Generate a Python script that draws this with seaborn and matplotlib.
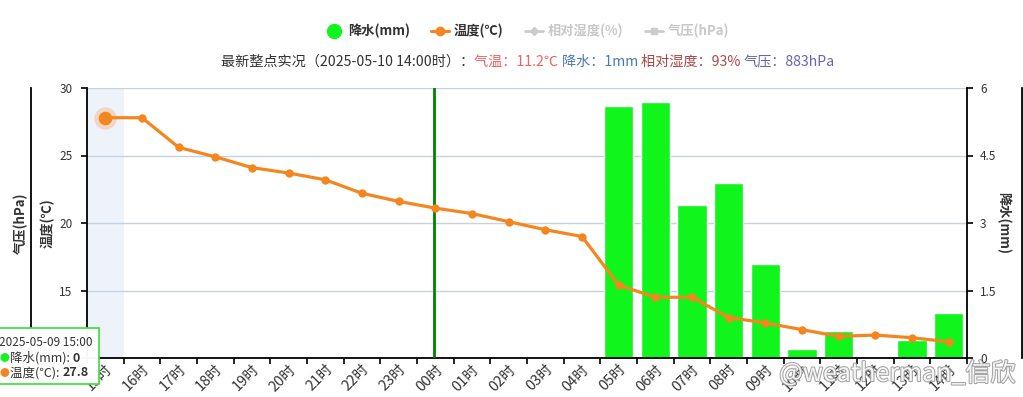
import numpy as np
import pandas as pd
import matplotlib
matplotlib.use('Agg')
import matplotlib.pyplot as plt
import seaborn as sns
from matplotlib.lines import Line2D
from matplotlib.patches import Rectangle
import matplotlib.patheffects as pe

# ---------------- data ----------------
hours = ['15时', '16时', '17时', '18时', '19时', '20时', '21时', '22时', '23时',
         '00时', '01时', '02时', '03时', '04时', '05时', '06时', '07时', '08时',
         '09时', '10时', '11时', '12时', '13时', '14时']
temp = [27.8, 27.8, 25.6, 24.9, 24.1, 23.7, 23.2, 22.2, 21.6, 21.1, 20.7, 20.1,
        19.5, 19.0, 15.4, 14.5, 14.5, 13.0, 12.6, 12.1, 11.6, 11.7, 11.5, 11.2]
precip = [0, 0, 0, 0, 0, 0, 0, 0, 0, 0, 0, 0, 0, 0,
          5.6, 5.7, 3.4, 3.9, 2.1, 0.2, 0.6, 0, 0.4, 1.0]
temp_ticks = [10, 15, 20, 25, 30]
temp_tick_labels = ['', '15', '20', '25', '30']   # "10" is hidden behind the tooltip
rain_ticks = [0, 1.5, 3, 4.5, 6]
rain_tick_labels = ['0', '1.5', '3', '4.5', '6']
legend_labels = ['降水(mm)', '温度(℃)', '相对湿度(%)', '气压(hPa)']
subtitle_parts = ['最新整点实况（2025-05-10 14:00时）：', '气温：11.2℃ ', '降水：1mm ',
                  '相对湿度：93% ', '气压：883hPa']
tooltip_title = '2025-05-09 15:00'
highlight_idx = 0
day_change_idx = 9

df = pd.DataFrame({'hour': hours, 'pos': np.arange(len(hours)), 'temp': temp, 'precip': precip})

# ---------------- style ----------------
GREEN = '#10f51b'
ORANGE = '#f5851f'
TXT = '#333333'
sns.set_theme(style='white')
plt.rcParams['font.family'] = ['Noto Sans CJK SC', 'DejaVu Sans']
plt.rcParams['axes.unicode_minus'] = False

W, H = 1023, 397
PX = 72 / 100  # points per pixel
fig = plt.figure(figsize=(W / 100, H / 100), dpi=100)
fig.patch.set_facecolor('white')

L, R, T, B = 87, 967, 88, 358
ax = fig.add_axes([L / W, 1 - B / H, (R - L) / W, (B - T) / H])
ax2 = ax.twinx()
ax.set_zorder(3)
ax2.set_zorder(2)
ax.patch.set_visible(False)

# precipitation bars (right axis)
sns.barplot(data=df, x='hour', y='precip', ax=ax2, color=GREEN, saturation=1,
            width=0.8, order=hours, zorder=2)
ax2.axvspan(highlight_idx - 0.5, highlight_idx + 0.5, color='#eef3fa', zorder=0, lw=0)
ax2.set_ylim(0, 6)
ax2.set_yticks(rain_ticks, labels=rain_tick_labels)
ax2.yaxis.grid(True, color='#c5d2e0', lw=1, zorder=1)
ax2.set_axisbelow(True)
for s in ['left', 'top', 'bottom']:
    ax2.spines[s].set_visible(False)
ax2.spines['right'].set_color('black')
ax2.spines['right'].set_linewidth(1.3)
ax2.tick_params(axis='y', which='major', length=6 * PX, width=1.2, color='black',
                direction='out', labelsize=8.5, labelcolor=TXT, pad=5, right=True)
ax2.set_ylabel('降水(mm)', rotation=270, fontsize=9.5, color=TXT, labelpad=10, fontweight='bold')
ax2.set_xlabel('')

# temperature line (left axis)
sns.lineplot(data=df, x='pos', y='temp', ax=ax, color=ORANGE, lw=2.3, marker='o',
             markersize=6, markeredgewidth=0, zorder=5)
ax.scatter([df['pos'][highlight_idx]], [df['temp'][highlight_idx]], s=260, color=ORANGE,
           alpha=0.25, lw=0, zorder=6)
ax.scatter([df['pos'][highlight_idx]], [df['temp'][highlight_idx]], s=95, color=ORANGE,
           lw=0, zorder=7)
ax.axvline(day_change_idx - 0.03, color='#008000', lw=2, zorder=4)

ax.set_xlim(-0.5, len(hours) - 0.5)
ax.set_ylim(10, 30)
ax.set_yticks(temp_ticks, labels=temp_tick_labels)
ax.set_xticks(np.arange(-0.5, len(hours), 1), labels=[''] * (len(hours) + 1))
ax.set_xticks(np.arange(len(hours)), labels=hours, minor=True)
ax.tick_params(axis='x', which='major', length=6 * PX, width=1.2, color='black', direction='out', bottom=True)
ax.tick_params(axis='x', which='minor', length=0, labelsize=10.5, labelcolor=TXT, pad=3)
for lab in ax.get_xticklabels(minor=True):
    lab.set_rotation(45)
    lab.set_ha('right')
    lab.set_va('top')
    lab.set_rotation_mode('anchor')
ax.tick_params(axis='y', which='major', length=6 * PX, width=1.2, color='black', direction='out',
               labelsize=8.5, labelcolor=TXT, pad=6, left=True)
for s in ['top', 'right']:
    ax.spines[s].set_visible(False)
for s in ['left', 'bottom']:
    ax.spines[s].set_color('black')
    ax.spines[s].set_linewidth(1.3)
ax.set_xlabel('')
ax.set_ylabel('温度(℃)', fontsize=9.5, color=TXT, labelpad=3, fontweight='bold')

# pressure axis (left, outward) & humidity axis (right, outward)
ax3 = ax.twinx()
ax3.set_zorder(1)
for s in ['top', 'bottom', 'right']:
    ax3.spines[s].set_visible(False)
ax3.spines['left'].set_visible(True)
ax3.spines['left'].set_position(('outward', 56 * PX))
ax3.spines['left'].set_color('black')
ax3.spines['left'].set_linewidth(1.3)
ax3.set_yticks([])
ax3.yaxis.set_label_position('left')
ax3.set_ylabel('气压(hPa)', fontsize=9.5, color=TXT, labelpad=2, fontweight='bold')

ax4 = ax.twinx()
ax4.set_zorder(1)
for s in ['top', 'bottom', 'left']:
    ax4.spines[s].set_visible(False)
ax4.spines['right'].set_position(('outward', 55 * PX))
ax4.spines['right'].set_color('black')
ax4.spines['right'].set_linewidth(1.3)
ax4.set_yticks([])

# ---------------- legend ----------------
handles = [
    Line2D([], [], color=GREEN, marker='o', ls='none', markersize=10),
    Line2D([], [], color=ORANGE, marker='o', lw=2.3, markersize=6),
    Line2D([], [], color='#cccccc', marker='D', lw=2, markersize=4),
    Line2D([], [], color='#cccccc', marker='s', lw=2, markersize=5),
]
leg = fig.legend(handles, legend_labels, loc='center', bbox_to_anchor=(527 / W, 1 - 31 / H),
                 ncol=4, frameon=False, fontsize=9.5, handlelength=1.4, columnspacing=1.6,
                 handletextpad=0.35)
for t, c in zip(leg.get_texts(), [TXT, TXT, '#c8c8c8', '#c8c8c8']):
    t.set_color(c)
    t.set_fontweight('bold')

# ---------------- subtitle ----------------
renderer = fig.canvas.get_renderer()
colors = [TXT, '#ee6460', '#4a78b5', '#b04646', '#6464b4']
texts = [fig.text(0, 1 - 62 / H, s, color=c, fontsize=10.2, va='center', ha='left')
         for s, c in zip(subtitle_parts, colors)]
widths = [t.get_window_extent(renderer).width for t in texts]
x0 = 528 - sum(widths) / 2
for t, w in zip(texts, widths):
    t.set_x(x0 / W)
    x0 += w

# ---------------- tooltip ----------------
box = Rectangle((-3 / W, 1 - 384 / H), 102 / W, 56 / H, transform=fig.transFigure,
                facecolor='white', edgecolor='#44dd44', lw=1.3, alpha=0.97, zorder=20)
fig.patches.append(box)
fig.text(-1 / W, 1 - 343 / H, tooltip_title, fontsize=8.5, color=TXT, va='center', ha='left', zorder=21)
rows = [('降水(mm): ', f"{df['precip'][highlight_idx]:g}", GREEN, 358),
        ('温度(℃): ', f"{df['temp'][highlight_idx]:.1f}", ORANGE, 373)]
for lab, val, col, yy in rows:
    fig.text(0 / W, 1 - yy / H, '●', fontsize=7, color=col, va='center', ha='left', zorder=21)
    t = fig.text(10 / W, 1 - yy / H, lab, fontsize=9, color=TXT, va='center', ha='left', zorder=21)
    w = t.get_window_extent(renderer).width
    fig.text((10 + w) / W, 1 - yy / H, val, fontsize=9, color=TXT, va='center', ha='left',
             fontweight='bold', zorder=21)

# ---------------- watermark ----------------
fig.text(1015 / W, 1 - 374 / H, '@weatherman_信欣', fontsize=18, color='white', alpha=0.9,
         ha='right', va='center', zorder=30,
         path_effects=[pe.withStroke(linewidth=1.5, foreground='#9a9a9a')])

fig.savefig('out.png', dpi=100, facecolor='white')
